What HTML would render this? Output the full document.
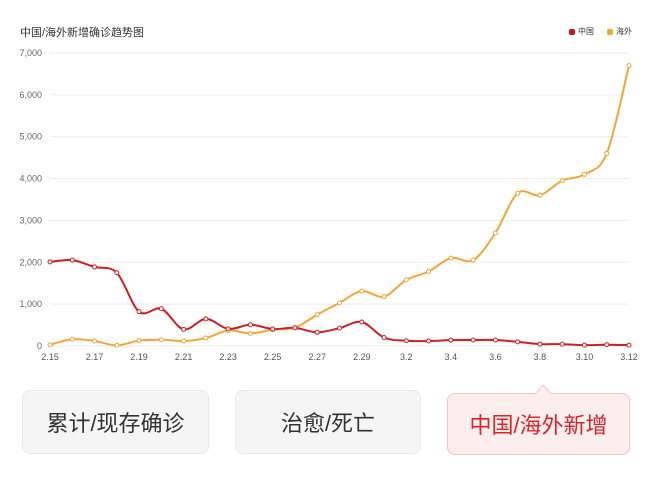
<!DOCTYPE html>
<html><head><meta charset="utf-8"><style>
body{margin:0;background:#fff;width:650px;height:479px;overflow:hidden;font-family:"Liberation Sans","Noto Sans CJK SC",sans-serif;position:relative}
.t{position:absolute;left:20px;top:24px;font-size:11px;color:#333}
.lg{position:absolute;top:26px;font-size:8px;color:#333}
.lg i{display:inline-block;width:6px;height:6px;border-radius:2px;margin-right:3px;vertical-align:-1px}
.b{position:absolute;top:390px;height:64px;border:1px solid #e8e8e8;border-radius:8px;background:#f5f5f5;font-size:22px;color:#333;display:flex;align-items:center;justify-content:center;box-sizing:border-box}
.b3{background:#fdeeee;border-color:#f0c8c8;color:#d9262c;top:393px;height:62px}
</style></head><body>
<div class="t">中国/海外新增确诊趋势图</div>
<div class="lg" style="left:569px"><i style="background:#d0141c"></i>中国</div>
<div class="lg" style="left:607px"><i style="background:#f5a431"></i>海外</div>
<svg id="s" width="650" height="380" style="position:absolute;left:0;top:0" font-family="Liberation Sans, sans-serif"></svg>
<div class="b" style="left:22px;width:187px">累计/现存确诊</div>
<div class="b" style="left:235px;width:186px">治愈/死亡</div>
<div class="b b3" style="left:447px;width:183px">中国/海外新增</div>
<svg width="20" height="10" style="position:absolute;left:534px;top:384px"><path d="M1,10 L9,1 L17,10" fill="#fdeeee" stroke="#f0c8c8"/></svg>
<script>
var s=document.getElementById('s'),h='';
var x0=50,x1=629,y0=346,py=41.86;
for(var k=0;k<=7;k++){var y=y0-k*py;h+='<line x1="50" x2="629" y1="'+y+'" y2="'+y+'" stroke="#eee"/>';
h+='<text x="42" y="'+(y+3)+'" font-size="9" fill="#666" text-anchor="end">'+(k?k+',000':'0')+'</text>';}
var lab=['2.15','2.17','2.19','2.21','2.23','2.25','2.27','2.29','3.2','3.4','3.6','3.8','3.10','3.12'];
var st=(x1-x0)/26;
lab.forEach(function(l,i){h+='<text x="'+(x0+i*2*st)+'" y="360" font-size="9" fill="#555" text-anchor="middle">'+l+'</text>';});
var cn=[2009,2051,1889,1749,820,889,397,648,409,508,406,433,327,427,573,202,125,119,139,143,143,99,46,45,20,31,20];
var ov=[30,160,120,15,130,150,120,190,370,300,390,440,750,1030,1310,1180,1580,1780,2100,2050,2700,3650,3600,3950,4100,4600,6700];
function path(d,c){var p=d.map(function(v,i){return [x0+i*st,y0-v*py/1000]});
var s='M'+p[0][0]+','+p[0][1];
for(var i=0;i<p.length-1;i++){var a=p[i-1]||p[i],b=p[i],c2=p[i+1],e=p[i+2]||c2;
s+=' C'+(b[0]+(c2[0]-a[0])/6)+','+(b[1]+(c2[1]-a[1])/6)+' '+(c2[0]-(e[0]-b[0])/6)+','+(c2[1]-(e[1]-b[1])/6)+' '+c2[0]+','+c2[1];}
var r='<path d="'+s+'" fill="none" stroke="'+c+'" stroke-width="2"/>';
p.forEach(function(q){r+='<circle cx="'+q[0]+'" cy="'+q[1]+'" r="2" fill="#fff" stroke="'+c+'" stroke-width="1"/>';});return r;}
h+=path(ov,'#f0a63a')+path(cn,'#cc2028');
s.innerHTML=h;
</script>
</body></html>
